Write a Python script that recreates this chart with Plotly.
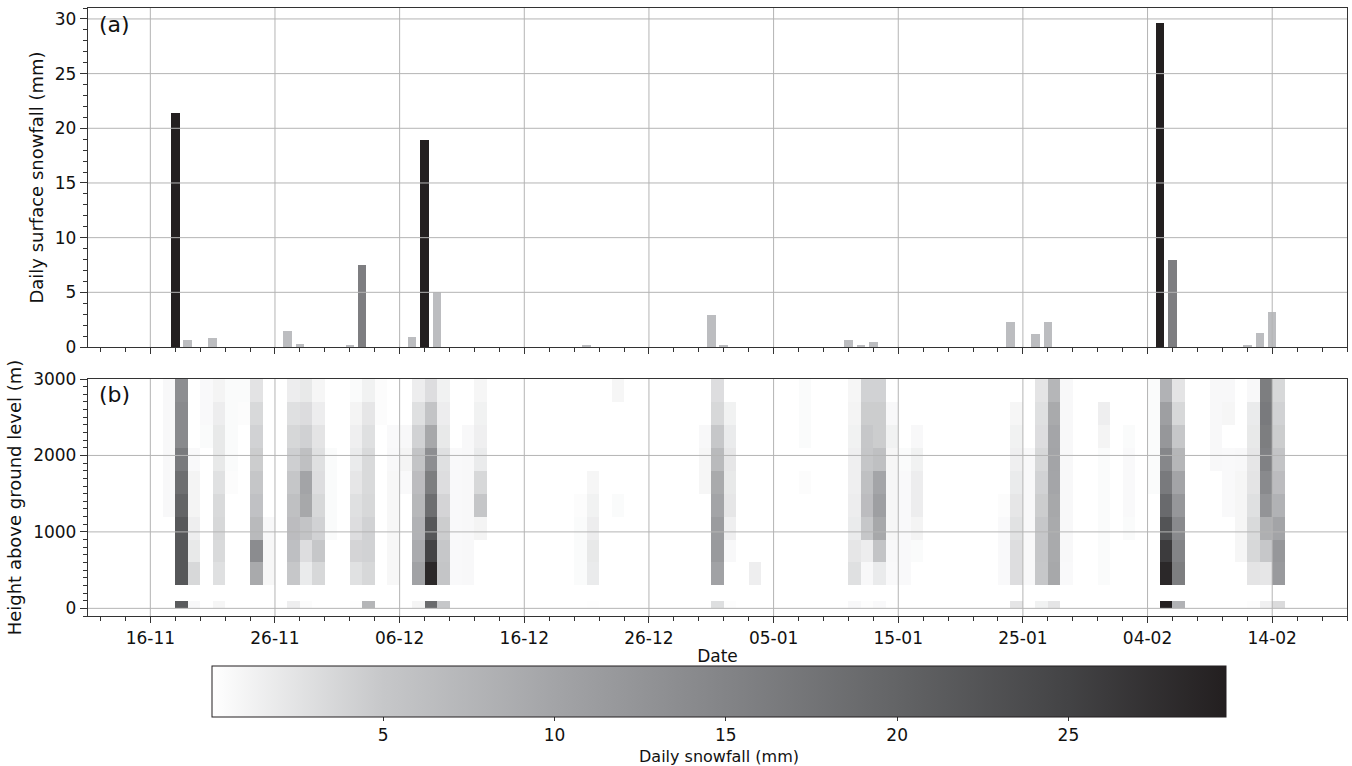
import plotly.graph_objects as go
import pandas as pd

# ---------------- data ----------------
# (a) daily surface snowfall (mm); days not listed had no snowfall
snow_dates = ["2016-11-18", "2016-11-19", "2016-11-21", "2016-11-27", "2016-11-28",
              "2016-12-02", "2016-12-03", "2016-12-07", "2016-12-08", "2016-12-09",
              "2016-12-21", "2016-12-31", "2017-01-01", "2017-01-11", "2017-01-12",
              "2017-01-13", "2017-01-24", "2017-01-26", "2017-01-27", "2017-02-05",
              "2017-02-06", "2017-02-12", "2017-02-13", "2017-02-14"]
snow_mm = [21.4, 0.6, 0.8, 1.5, 0.3,
           0.1, 7.5, 0.9, 18.9, 5.0,
           0.1, 2.9, 0.2, 0.6, 0.2,
           0.5, 2.3, 1.2, 2.3, 29.6,
           8.0, 0.2, 1.3, 3.2]

# (b) daily snowfall profiles (mm), 300-m layers from 300 m up to 3000 m (bottom -> top)
layer_edges_m = [300, 600, 900, 1200, 1500, 1800, 2100, 2400, 2700, 3000]
surface_layer_m = [0, 100]
profile_dates = ["2016-11-17", "2016-11-18", "2016-11-19", "2016-11-20", "2016-11-21",
                 "2016-11-22", "2016-11-23", "2016-11-24", "2016-11-25", "2016-11-27",
                 "2016-11-28", "2016-11-29", "2016-11-30", "2016-12-02", "2016-12-03",
                 "2016-12-04", "2016-12-05", "2016-12-06", "2016-12-07", "2016-12-08",
                 "2016-12-09", "2016-12-10", "2016-12-11", "2016-12-12", "2016-12-20",
                 "2016-12-21", "2016-12-23", "2016-12-30", "2016-12-31", "2017-01-01",
                 "2017-01-03", "2017-01-07", "2017-01-11", "2017-01-12", "2017-01-13",
                 "2017-01-14", "2017-01-15", "2017-01-16", "2017-01-23", "2017-01-24",
                 "2017-01-25", "2017-01-26", "2017-01-27", "2017-01-28", "2017-01-31",
                 "2017-02-02", "2017-02-04", "2017-02-05", "2017-02-06", "2017-02-09",
                 "2017-02-10", "2017-02-11", "2017-02-12", "2017-02-13", "2017-02-14"]
profile_mm = [
    [0, 0, 0, 0.6, 0.6, 0.6, 0.6, 0.6, 0.6],
    [22, 22, 21.8, 20, 18.5, 16.5, 14, 14, 13.5],
    [3.5, 2.0, 1.5, 1.0, 1.0, 0.5, 0, 0, 0],
    [0, 0, 0, 0, 0, 0, 0.4, 0.5, 0.5],
    [2.8, 3.3, 3.5, 3.3, 2.7, 2.0, 2.0, 1.6, 1.0],
    [0, 0, 0, 0, 0.3, 0.4, 0.4, 0.4, 0.4],
    [0, 0, 0, 0, 0, 0, 0, 0.3, 0.4],
    [9.2, 13.8, 6.9, 5.8, 5.2, 4.5, 4.0, 3.4, 2.5],
    [0.7, 0.7, 0.6, 0, 0, 0, 0, 0, 0],
    [5.0, 6.1, 6.5, 6.0, 5.2, 4.3, 3.6, 2.8, 1.6],
    [1.8, 3.0, 5.5, 9.5, 10, 6.0, 4.1, 3.1, 2.0],
    [3.5, 5.0, 4.0, 3.5, 3.0, 2.8, 2.4, 1.6, 0.8],
    [0, 0, 0.4, 0.4, 0.4, 0.4, 0, 0, 0],
    [2.7, 3.8, 3.0, 2.8, 2.2, 1.8, 1.4, 1.0, 0.4],
    [3.5, 4.0, 4.0, 3.5, 3.3, 3.3, 2.8, 2.2, 1.2],
    [0, 0, 0, 0, 0, 0, 0, 0.3, 0.3],
    [0.7, 0.7, 0.7, 0.7, 0.7, 0.6, 0.5, 0, 0],
    [0, 0, 0, 0, 0.5, 1.0, 0.6, 0, 0],
    [10.3, 9.0, 8.0, 7.2, 6.5, 5.5, 4.0, 2.8, 1.6],
    [28.5, 25, 22, 18.5, 16, 13.5, 9.5, 5.5, 3.0],
    [5.3, 5.0, 4.5, 3.8, 3.0, 2.8, 2.0, 1.6, 1.2],
    [0.5, 0.5, 0.5, 0.5, 0.5, 0.5, 0, 0, 0],
    [0.6, 0.6, 0.6, 0.6, 0.6, 0.6, 0.6, 0, 0],
    [0, 0, 1.0, 5.2, 3.5, 1.8, 1.4, 1.2, 0.8],
    [0.4, 0.4, 0.4, 0.3, 0, 0, 0, 0, 0],
    [1.8, 2.0, 1.6, 1.2, 0.8, 0, 0, 0, 0],
    [0, 0, 0, 0.4, 0, 0, 0, 0, 0.8],
    [0, 0, 0, 0, 0.8, 0.8, 0.6, 0, 0],
    [10.3, 11.5, 11.3, 10, 9.2, 6.9, 5.0, 3.5, 3.0],
    [0, 0.6, 1.4, 2.2, 2.0, 2.2, 1.8, 1.2, 0],
    [1.5, 0, 0, 0, 0, 0, 0, 0, 0],
    [0, 0, 0, 0, 0.3, 0, 0.4, 0.4, 0.4],
    [2.8, 2.2, 1.8, 1.6, 1.4, 1.4, 1.2, 1.0, 0.8],
    [0.6, 1.6, 5.0, 6.5, 6.0, 5.2, 5.0, 4.5, 4.0],
    [1.8, 5.5, 9.5, 10.8, 9.8, 6.0, 4.5, 4.5, 4.0],
    [0.5, 0.6, 0.8, 0.8, 0.8, 0.8, 1.2, 0.6, 0],
    [0.5, 0.5, 0.5, 0.5, 0.5, 0.4, 0, 0, 0],
    [0, 0.4, 1.0, 1.6, 1.6, 1.2, 0.6, 0, 0],
    [0.5, 0.5, 0.5, 0.3, 0, 0, 0, 0, 0],
    [3.0, 3.0, 2.6, 2.2, 1.8, 1.4, 1.2, 0.8, 0],
    [0.6, 0.6, 0.6, 0.6, 0.6, 0.6, 0, 0, 0],
    [5.0, 5.2, 5.0, 4.5, 4.0, 3.5, 3.0, 2.8, 2.4],
    [9.5, 9.2, 9.2, 9.5, 9.8, 10, 9.8, 9.2, 7.5],
    [0.5, 0.6, 0.6, 0.6, 0.6, 0.6, 0.6, 0.6, 0.6],
    [0.4, 0.4, 0.4, 0.4, 0.4, 0.4, 1.0, 1.5, 0],
    [0, 0, 0.4, 0.5, 0.5, 0.5, 0.4, 0, 0],
    [0, 0, 0, 0, 0.4, 0.4, 0.4, 0.4, 0.4],
    [28.5, 26, 22.5, 19, 16.5, 14.5, 12, 10.8, 8],
    [16, 15, 14, 12, 10, 7.5, 5, 3.5, 2.4],
    [0, 0, 0, 0, 0, 0.6, 0.6, 0.6, 0.6],
    [0, 0, 0, 0.5, 0.5, 0.5, 0, 0.8, 0.6],
    [0, 0.8, 0.8, 0.8, 0.8, 0.6, 0, 0, 0],
    [2.4, 3.5, 3.3, 2.8, 2.4, 2.2, 2.0, 1.8, 0.6],
    [2.2, 5.0, 8.5, 12.5, 14, 15.5, 16, 16.5, 16],
    [11.5, 12, 10, 8, 6.5, 5.5, 4.5, 4, 3.5],
]

date_start, date_end = "2016-11-11", "2017-02-20"
date_ticks_start = "2016-11-16"
colorbar_ticks = [5, 10, 15, 20, 25]
z_max = 29.6

# ---------------- figure geometry ----------------
W, H = 1352, 766
ML, MR, MT, MB = 88, 5, 8, 150
PH = H - MT - MB


def ydom(top_px, bot_px):
    return [(H - MB - bot_px) / PH, (H - MB - top_px) / PH]


FONT = "DejaVu Sans"
AX = "#333333"
GRID = "#b4b4b4"
DAY_MS = 86400000

# ---------------- traces ----------------
def bar_color(v):
    if v > 15:
        return "#231f20"
    if v > 5:
        return "#7e7e81"
    return "#bcbdc0"


fig = go.Figure()
fig.add_trace(go.Bar(
    x=snow_dates, y=snow_mm, width=0.68 * DAY_MS,
    marker=dict(color=[bar_color(v) for v in snow_mm], line=dict(width=0)),
    xaxis="x", yaxis="y", showlegend=False, hoverinfo="x+y"))

days = pd.date_range(date_start, pd.Timestamp(date_end) - pd.Timedelta(days=1), freq="D")
centers = [d + pd.Timedelta(hours=12) for d in days]
surf = dict(zip(pd.to_datetime(snow_dates), snow_mm))
prof = dict(zip(pd.to_datetime(profile_dates), profile_mm))

y_edges = surface_layer_m + layer_edges_m  # [0,100,300,...,3000]
n_rows = len(y_edges) - 1
z = [[None] * len(days) for _ in range(n_rows)]
for j, d in enumerate(days):
    if d in surf and surf[d] > 0:
        z[0][j] = surf[d]
    if d in prof:
        for k, v in enumerate(prof[d]):
            if v > 0:
                z[2 + k][j] = v

cs_vals = [0] + colorbar_ticks + [z_max]
cs_cols = ["#ffffff", "#c6c7c9", "#a3a4a7", "#838487", "#636466", "#434345", "#231f20"]
colorscale = [[v / z_max, c] for v, c in zip(cs_vals, cs_cols)]

fig.add_trace(go.Heatmap(
    x=centers, y=y_edges, z=z, zmin=0, zmax=z_max, colorscale=colorscale,
    xaxis="x2", yaxis="y2", hoverongaps=False,
    colorbar=dict(orientation="h", x=(719 - ML) / (W - ML - MR), xanchor="center",
                  y=(H - MB - 666) / PH, yanchor="top",
                  len=1014, lenmode="pixels", thickness=51, thicknessmode="pixels",
                  xpad=0, ypad=0, outlinecolor="#231f20", outlinewidth=1,
                  ticks="outside", ticklen=4, tickcolor=AX, tickvals=colorbar_ticks,
                  tickfont=dict(family=FONT, size=17, color="#111"),
                  title=dict(text="Daily snowfall (mm)", side="bottom",
                             font=dict(family=FONT, size=16, color="#111")))))

# ---------------- axes ----------------
xcommon = dict(type="date", range=[date_start, date_end], tick0=date_ticks_start,
               dtick=10 * DAY_MS, tickformat="%d-%m", ticks="outside", ticklen=6,
               tickcolor=AX, showgrid=False, zeroline=False, showline=True, mirror=True,
               linecolor=AX, linewidth=1.3, automargin=False,
               minor=dict(ticks="outside", ticklen=3.5, tickcolor=AX, dtick=2 * DAY_MS,
                          tick0=date_ticks_start, showgrid=False),
               tickfont=dict(family=FONT, size=17, color="#111"))
ycommon = dict(ticks="outside", ticklen=7, tickcolor=AX, showgrid=False, zeroline=False,
               showline=True, mirror=True, linecolor=AX, linewidth=1.3, automargin=False,
               tickfont=dict(family=FONT, size=17, color="#111"))

fig.update_layout(
    width=W, height=H, margin=dict(l=ML, r=MR, t=MT, b=MB, autoexpand=False),
    paper_bgcolor="white", plot_bgcolor="white",
    font=dict(family=FONT, size=17, color="#111"),
    bargap=0,
    xaxis=dict(**xcommon, domain=[0, 1], anchor="y", showticklabels=False),
    xaxis2=dict(**xcommon, domain=[0, 1], anchor="y2",
                title=dict(text="Date", standoff=3, font=dict(family=FONT, size=17))),
    yaxis=dict(**ycommon, domain=ydom(8, 347), anchor="x", range=[0, 31], tick0=0, dtick=5,
               minor=dict(ticks="outside", ticklen=3.5, tickcolor=AX, dtick=1, showgrid=False),
               title=dict(text="Daily surface snowfall (mm)", standoff=6,
                          font=dict(family=FONT, size=18))),
    yaxis2=dict(**ycommon, domain=ydom(379, 616), anchor="x2", range=[-100, 3000], tick0=0,
                dtick=1000,
                minor=dict(ticks="outside", ticklen=3.5, tickcolor=AX, dtick=100, showgrid=False),
                title=dict(text="Height above ground level (m)", standoff=6,
                           font=dict(family=FONT, size=18))),
)

# grid lines drawn above the marks (as in the original)
grid_dates = pd.date_range(date_ticks_start, date_end, freq="10D")
shapes = []
for xa, ya in (("x", "y"), ("x2", "y2")):
    for d in grid_dates:
        shapes.append(dict(type="line", xref=xa, yref=ya + " domain", x0=d, x1=d, y0=0, y1=1,
                           line=dict(color=GRID, width=1), layer="above"))
for v in range(5, 31, 5):
    shapes.append(dict(type="line", xref="x domain", yref="y", x0=0, x1=1, y0=v, y1=v,
                       line=dict(color=GRID, width=1), layer="above"))
for v in (0, 1000, 2000):
    shapes.append(dict(type="line", xref="x2 domain", yref="y2", x0=0, x1=1, y0=v, y1=v,
                       line=dict(color=GRID, width=1), layer="above"))
fig.update_layout(shapes=shapes)

for lab, xa, ya in (("(a)", "x", "y"), ("(b)", "x2", "y2")):
    fig.add_annotation(text=lab, xref=xa + " domain", yref=ya + " domain", x=0.007, y=0.995,
                       xanchor="left", yanchor="top", showarrow=False,
                       font=dict(family=FONT, size=22, color="#111"))

fig.write_html("out.html", config={"displayModeBar": False},
               post_script="document.body.style.margin='0';document.body.style.overflow='hidden';")
